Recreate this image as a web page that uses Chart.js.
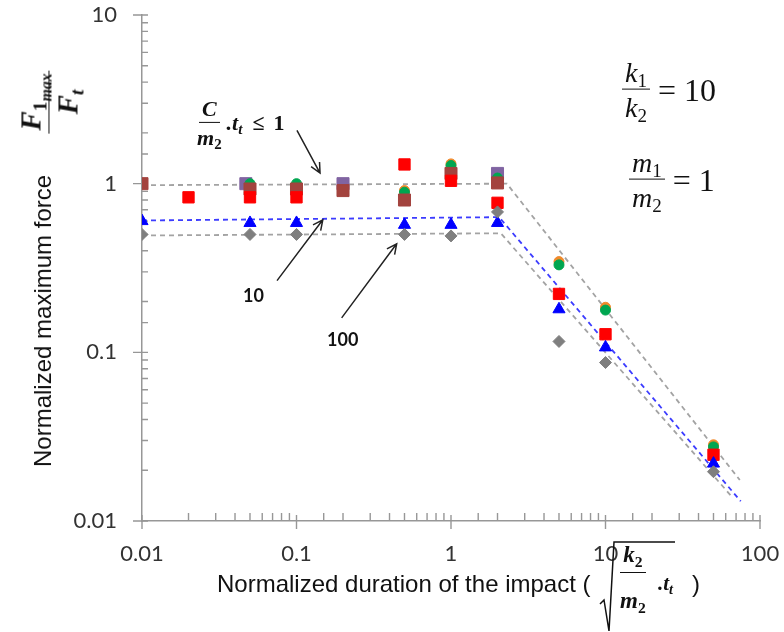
<!DOCTYPE html>
<html>
<head>
<meta charset="utf-8">
<script src="https://cdn.jsdelivr.net/npm/chart.js@4/dist/chart.umd.min.js"></script>
<style>
  html, body { margin: 0; padding: 0; background: #fff; }
  #wrap { position: relative; width: 784px; height: 632px; overflow: hidden; }
  #grafico { position: absolute; left: 0; top: 0; }
  .lbl { position: absolute; white-space: nowrap; color: #111; }
  .sans { font-family: "Liberation Sans", Arial, sans-serif; font-size: 24px; }
  .mi { font-family: "Liberation Serif", "DejaVu Serif", serif; font-style: italic; }
  .mb { font-family: "Liberation Serif", "DejaVu Serif", serif; font-style: italic; font-weight: bold; }
  .up { font-style: normal; }
  .frac { display: inline-flex; flex-direction: column; align-items: center; vertical-align: middle; }
  .frac .n { border-bottom: 1.6px solid #111; padding: 0 3px 2px; line-height: 1.05; }
  .frac .d { padding: 3px 3px 0; line-height: 1.05; }
  sub { font-size: 0.68em; vertical-align: -0.3em; line-height: 0; font-style: normal; }
  sub.it { font-style: italic; }
  .row { display: flex; align-items: center; }
</style>
</head>
<body>
<div id="wrap">
  <canvas id="grafico" width="784" height="632"></canvas>

  <div class="lbl sans" style="left:43px; top:321px; transform:translate(-50%,-50%) rotate(-90deg);">Normalized maximum force</div>

  <div class="lbl mb" style="left:49px; top:102px; font-size:29px; transform:translate(-50%,-50%) rotate(-90deg);">
    <span class="frac"><span class="n">F<sub>1<sub class="it" style="font-size:0.8em">max</sub></sub></span><span class="d">F<sub class="it">t</sub></span></span>
  </div>

  <div class="lbl mi row" style="left:622px; top:90px; font-size:28px; transform:translateY(-50%);">
    <span class="frac"><span class="n">k<sub>1</sub></span><span class="d">k<sub>2</sub></span></span><span class="up" style="font-size:32px;">&nbsp;= 10</span>
  </div>

  <div class="lbl mi row" style="left:629px; top:180px; font-size:28px; transform:translateY(-50%);">
    <span class="frac"><span class="n">m<sub>1</sub></span><span class="d">m<sub>2</sub></span></span><span class="up" style="font-size:32px;">&nbsp;= 1</span>
  </div>

  <div class="lbl mb row" style="left:194px; top:123px; font-size:22px; transform:translateY(-50%);">
    <span class="frac"><span class="n">C</span><span class="d">m<sub>2</sub></span></span><span style="margin-left:2px;">.t<sub class="it">t</sub></span><span class="up" style="margin-left:10px;">≤</span><span class="up" style="margin-left:9px;">1</span>
  </div>

  <div class="lbl" style="left:243px; top:284px; font-family:Lato; font-weight:bold; font-size:18px;">10</div>
  <div class="lbl" style="left:327px; top:328px; font-family:Lato; font-weight:bold; font-size:18px;">100</div>

  <div class="lbl sans" style="left:217px; top:570px;">Normalized duration of the impact (</div>
  <svg style="position:absolute; left:599px; top:540px;" width="80" height="94">
    <path d="M1 64 L5 60 L10 91 L15 2 L76 2" fill="none" stroke="#111" stroke-width="1.5"/>
  </svg>
  <div class="lbl mb" style="left:617px; top:543px; font-size:23px;">
    <span class="frac"><span class="n" style="padding-bottom:5px;">k<sub>2</sub></span><span class="d" style="padding-top:16px;">m<sub>2</sub></span></span>
  </div>
  <div class="lbl mb" style="left:658px; top:571px; font-size:21px;">.t<sub class="it">t</sub></div>
  <div class="lbl sans" style="left:692px; top:570px;">)</div>
</div>

<script>
// tick labels
const xTickLabels = ['0.01', '0.1', '1', '10', '100'];
const yTickLabels = ['0.01', '0.1', '1', '10'];

// series (normalized duration, normalized max force)
const purpleX = [0.047, 0.2, 2];
const purpleY = [1.0, 1.0, 1.15];
const orangeX = [0.5, 1, 5, 10, 50];
const orangeY = [0.91, 1.31, 0.345, 0.185, 0.0283];
const greenX = [0.05, 0.1, 0.5, 1, 2, 5, 10, 50];
const greenY = [1.0, 1.0, 0.89, 1.28, 1.08, 0.33, 0.178, 0.0275];
const brownX = [0.01, 0.05, 0.1, 0.2, 0.5, 1, 2];
const brownY = [1.0, 0.93, 0.93, 0.91, 0.80, 1.15, 1.01];
const redX = [0.02, 0.05, 0.1, 0.5, 1, 2, 5, 10, 50];
const redY = [0.83, 0.83, 0.83, 1.30, 1.04, 0.77, 0.222, 0.128, 0.0247];
const blueX = [0.01, 0.05, 0.1, 0.5, 1, 2, 5, 10, 50];
const blueY = [0.60, 0.585, 0.585, 0.57, 0.57, 0.585, 0.18, 0.107, 0.0219];
const grayX = [0.01, 0.05, 0.1, 0.5, 1, 2, 5, 10, 50];
const grayY = [0.50, 0.50, 0.50, 0.50, 0.49, 0.68, 0.116, 0.087, 0.0196];

// dashed trend lines
const fitTopX = [0.01, 2.3, 74];
const fitTopY = [0.98, 1.0, 0.0175];
const fitMidX = [0.01, 2.05, 75];
const fitMidY = [0.605, 0.633, 0.0131];
const fitLowX = [0.01, 2.1, 65];
const fitLowY = [0.493, 0.508, 0.0141];

// annotation arrows [fromX, fromY, toX, toY]
const arrowsData = [
    [0.1007, 2.07, 0.142, 1.156],
    [0.0748, 0.266, 0.148, 0.611],
    [0.196, 0.16, 0.445, 0.44]
];

function pts(xs, ys) {
    return xs.map(function (v, i) { return { x: v, y: ys[i] }; });
}

function marks(xs, ys, shape, color, r, order) {
    return {
        data: pts(xs, ys),
        pointStyle: shape,
        pointRadius: r,
        backgroundColor: color,
        borderColor: color,
        borderWidth: 1,
        order: order
    };
}

function fit(xs, ys, color) {
    return {
        data: pts(xs, ys),
        showLine: true,
        pointRadius: 0,
        borderColor: color,
        borderWidth: 1.8,
        borderDash: [5, 4],
        fill: false,
        order: 10
    };
}

function lbl(v) {
    return String(Number(Number(v).toPrecision(3)));
}

const tickMarks = {
    id: 'tickMarks',
    beforeDatasetsDraw: function (chart) {
        const ctx = chart.ctx, x = chart.scales.x, y = chart.scales.y;
        ctx.save();
        ctx.strokeStyle = '#979797';
        ctx.lineWidth = 1.4;
        ctx.beginPath();
        x.ticks.forEach(function (t) {
            const px = x.getPixelForValue(t.value);
            const major = xTickLabels.includes(lbl(t.value));
            ctx.moveTo(px, x.top + (major ? 8 : 0));
            ctx.lineTo(px, x.top - (major ? 6 : 8));
        });
        y.ticks.forEach(function (t) {
            const py = y.getPixelForValue(t.value);
            const major = yTickLabels.includes(lbl(t.value));
            ctx.moveTo(y.right - (major ? 9 : 0), py);
            ctx.lineTo(y.right + 6, py);
        });
        ctx.stroke();
        ctx.restore();
    }
};

const arrows = {
    id: 'arrows',
    afterDatasetsDraw: function (chart) {
        const ctx = chart.ctx, x = chart.scales.x, y = chart.scales.y;
        ctx.save();
        ctx.strokeStyle = '#222';
        ctx.lineWidth = 1.5;
        arrowsData.forEach(function (a) {
            const x0 = x.getPixelForValue(a[0]), y0 = y.getPixelForValue(a[1]);
            const x1 = x.getPixelForValue(a[2]), y1 = y.getPixelForValue(a[3]);
            const ang = Math.atan2(y1 - y0, x1 - x0);
            ctx.beginPath();
            ctx.moveTo(x0, y0);
            ctx.lineTo(x1, y1);
            ctx.moveTo(x1 - 11 * Math.cos(ang - 0.45), y1 - 11 * Math.sin(ang - 0.45));
            ctx.lineTo(x1, y1);
            ctx.lineTo(x1 - 11 * Math.cos(ang + 0.45), y1 - 11 * Math.sin(ang + 0.45));
            ctx.stroke();
        });
        ctx.restore();
    }
};

const ctx = document.getElementById('grafico');

new Chart(ctx, {
    type: 'scatter',
    data: {
        datasets: [
            marks(grayX, grayY, 'rectRot', '#7f7f7f', 6, 0),
            marks(blueX, blueY, 'triangle', '#0000ff', 7, 1),
            marks(redX, redY, 'rect', '#ff0000', 8, 2),
            marks(brownX, brownY, 'rect', '#a3433e', 8.5, 3),
            marks(greenX, greenY, 'circle', '#00a650', 5, 4),
            marks(orangeX, orangeY, 'circle', '#f08a2c', 5, 5),
            marks(purpleX, purpleY, 'rect', '#8064a2', 8.5, 6),
            fit(fitTopX, fitTopY, '#a3a3a3'),
            fit(fitMidX, fitMidY, '#3c3cff'),
            fit(fitLowX, fitLowY, '#a3a3a3')
        ]
    },
    options: {
        responsive: false,
        animation: false,
        devicePixelRatio: 1,
        layout: { padding: { top: 15, right: 24, left: 0, bottom: 0 } },
        plugins: {
            legend: { display: false },
            tooltip: { enabled: false }
        },
        scales: {
            x: {
                type: 'logarithmic',
                min: 0.01,
                max: 100,
                // tickLength only offsets the labels; visible tick marks come from the plugin
                grid: { display: true, drawOnChartArea: false, drawTicks: true, tickLength: 20, tickColor: 'rgba(0,0,0,0)' },
                border: { color: '#979797', width: 1.5 },
                ticks: {
                    autoSkip: false,
                    maxRotation: 0,
                    padding: 0,
                    color: '#333',
                    font: { family: 'Lato', size: 22 },
                    callback: function (v) {
                        const s = lbl(v);
                        return xTickLabels.includes(s) ? s : '';
                    }
                },
                afterFit: function (s) { s.height = 111; }
            },
            y: {
                type: 'logarithmic',
                min: 0.01,
                max: 10,
                grid: { display: true, drawOnChartArea: false, drawTicks: true, tickLength: 25, tickColor: 'rgba(0,0,0,0)' },
                border: { color: '#979797', width: 1.5 },
                ticks: {
                    autoSkip: false,
                    padding: 0,
                    color: '#333',
                    font: { family: 'Lato', size: 22 },
                    callback: function (v) {
                        const s = lbl(v);
                        return yTickLabels.includes(s) ? s : '';
                    }
                },
                afterFit: function (s) { s.width = 142; }
            }
        }
    },
    plugins: [tickMarks, arrows]
});
</script>
</body>
</html>
